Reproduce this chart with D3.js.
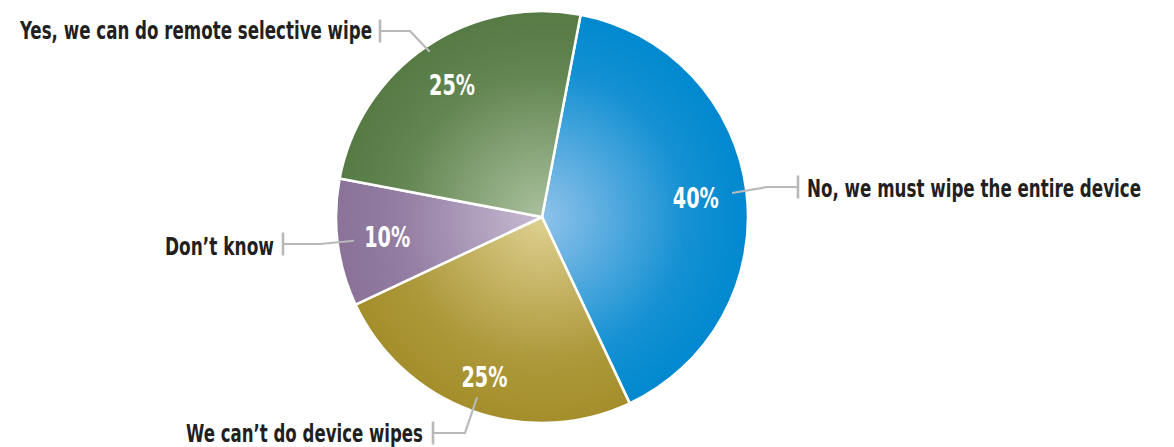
<!DOCTYPE html>
<html>
<head>
<meta charset="utf-8">
<script src="https://cdn.jsdelivr.net/npm/d3@7"></script>
<style>
  html, body { margin: 0; padding: 0; background: #fff; }
  svg text { font-family: "Liberation Sans Narrow", "DejaVu Sans Condensed", "Roboto Condensed", sans-serif; font-weight: bold; }
</style>
</head>
<body>
<div id="chart"></div>
<script>
// Data, in drawing order (clockwise from the top)
const categories = [
    "No, we must wipe the entire device",
    "We can\u2019t do device wipes",
    "Don\u2019t know",
    "Yes, we can do remote selective wipe"
];
const shares = [40, 25, 10, 25];
const shareLabels = ["40%", "25%", "10%", "25%"];

// Colours per slice: light centre, dark edge
const lightColors = ["#8fc2ea", "#ded191", "#c7bbd3", "#a9c09d"];
const darkColors  = ["#0088cf", "#a48e2b", "#8a7299", "#567a44"];

const width = 1174, height = 447;
const cx = 542, cy = 217, radius = 206;
const startAngle = 10.8 * Math.PI / 180;

// Layout for the callouts (leader start radius, bend, bar, text)
const layout = [
    { lead: 0.93, bend: [767, 187], bar: 798, anchor: "start", tx: 807, ty: 197, tw: 334, pr: 155 },
    { lead: 0.93, bend: [465, 433], bar: 433, anchor: "end",   tx: 423, ty: 442, tw: 237, pr: 170 },
    { lead: 0.92, bend: [320, 244], bar: 283, anchor: "end",   tx: 274, ty: 255, tw: 109, pr: 156 },
    { lead: 0.97, bend: [410, 31],  bar: 380, anchor: "end",   tx: 372, ty: 39,  tw: 352, pr: 160 }
];

const data = categories.map((c, i) => ({ name: c, value: shares[i], label: shareLabels[i], i }));

const svg = d3.select("#chart")
    .append("svg")
    .attr("width", width)
    .attr("height", height);

// gradients live in the pie group's space (centre at 0,0)
const defs = svg.append("defs");
data.forEach((d, i) => {
    const g = defs.append("radialGradient")
        .attr("id", "grad" + i)
        .attr("gradientUnits", "userSpaceOnUse")
        .attr("cx", 0).attr("cy", 0).attr("r", radius)
        .attr("fx", 0).attr("fy", 0);
    g.append("stop").attr("offset", 0).attr("stop-color", lightColors[i]);
    g.append("stop").attr("offset", 0.7).attr("stop-color", d3.interpolateRgb(lightColors[i], darkColors[i])(0.85));
    g.append("stop").attr("offset", 1).attr("stop-color", darkColors[i]);
});

const pie = d3.pie()
    .value(d => d.value)
    .sort(null)
    .startAngle(startAngle)
    .endAngle(startAngle + 2 * Math.PI);

const arcs = pie(data);

const arc = d3.arc().innerRadius(0).outerRadius(radius);

const g = svg.append("g").attr("transform", `translate(${cx},${cy})`);

g.selectAll("path.slice")
    .data(arcs)
    .enter().append("path")
    .attr("class", "slice")
    .attr("d", arc)
    .attr("fill", (d, i) => `url(#grad${i})`)
    .attr("stroke", "#fff")
    .attr("stroke-width", 2.5)
    .attr("stroke-linejoin", "round");

// point on a given radius at the mid angle of a slice
function pointAt(d, r) {
    const a = (d.startAngle + d.endAngle) / 2;
    return [cx + r * Math.sin(a), cy - r * Math.cos(a)];
}

// leader lines
arcs.forEach((d, i) => {
    const L = layout[i];
    const p0 = pointAt(d, radius * L.lead);
    const pts = [p0, L.bend, [L.bar, L.bend[1]]];
    svg.append("path")
        .attr("d", d3.line()(pts))
        .attr("fill", "none")
        .attr("stroke", "#b9b9bc")
        .attr("stroke-width", 2.2);
    svg.append("line")
        .attr("x1", L.bar).attr("x2", L.bar)
        .attr("y1", L.bend[1] - 11.5).attr("y2", L.bend[1] + 11.5)
        .attr("stroke", "#b9b9bc")
        .attr("stroke-width", 2.6);

    svg.append("text")
        .attr("x", L.tx)
        .attr("y", L.ty)
        .attr("text-anchor", L.anchor)
        .attr("fill", "#231f20")
        .attr("font-size", "24px")
        .attr("textLength", L.tw)
        .attr("lengthAdjust", "spacingAndGlyphs")
        .text(d.data.name);
});

// percentage labels
arcs.forEach((d, i) => {
    const p = pointAt(d, layout[i].pr);
    svg.append("text")
        .attr("x", p[0])
        .attr("y", p[1] + 10.5)
        .attr("text-anchor", "middle")
        .attr("fill", "#fff")
        .attr("font-size", "29px")
        .attr("textLength", 46)
        .attr("lengthAdjust", "spacingAndGlyphs")
        .text(d.data.label);
});
</script>
</body>
</html>
